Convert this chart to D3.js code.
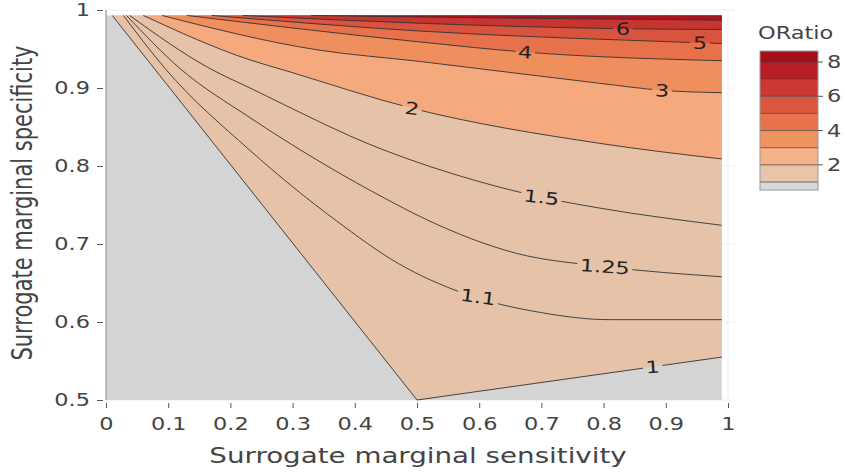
<!DOCTYPE html>
<html>
<head>
<meta charset="utf-8">
<script src="https://cdn.jsdelivr.net/npm/d3@7"></script>
<style>
body { margin: 0; background: #fff; }
text { font-family: "DejaVu Sans", Verdana, sans-serif; }
</style>
</head>
<body>
<script>
// tick labels
var xTicks = [0, 0.1, 0.2, 0.3, 0.4, 0.5, 0.6, 0.7, 0.8, 0.9, 1];
var yTicks = [0.5, 0.6, 0.7, 0.8, 0.9, 1];
var cbTicks = [2, 4, 6, 8];

// contour lines, [sensitivity, specificity]
var line_1    = [[0.01, 0.993], [0.5, 0.5], [0.99, 0.555]];
var line_1_1  = [[0.028, 0.993], [0.095, 0.925], [0.2315, 0.82], [0.37, 0.73], [0.47, 0.675], [0.574, 0.637], [0.70, 0.612], [0.81, 0.603], [0.99, 0.603]];
var line_1_25 = [[0.033, 0.993], [0.119, 0.925], [0.2315, 0.862], [0.445, 0.760], [0.516, 0.731], [0.66, 0.688], [0.802, 0.671], [0.99, 0.658]];
var line_1_5  = [[0.038, 0.993], [0.167, 0.925], [0.2315, 0.90], [0.445, 0.821], [0.60, 0.78], [0.70, 0.760], [0.794, 0.746], [0.99, 0.724]];
var line_2    = [[0.06, 0.993], [0.2315, 0.936], [0.29, 0.922], [0.492, 0.874], [0.794, 0.829], [0.99, 0.809]];
var line_3    = [[0.09, 0.993], [0.339, 0.949], [0.505, 0.934], [0.794, 0.906], [0.894, 0.897], [0.99, 0.894]];
var line_4    = [[0.13, 0.993], [0.505, 0.959], [0.674, 0.946], [0.99, 0.935]];
var line_5    = [[0.17, 0.993], [0.505, 0.973], [0.955, 0.958], [0.99, 0.957]];
var line_6    = [[0.22, 0.993], [0.505, 0.983], [0.831, 0.976], [0.99, 0.975]];
var line_7    = [[0.33, 0.993], [0.505, 0.991], [0.99, 0.987]];

var lineLevels = [1, 1.1, 1.25, 1.5, 2, 3, 4, 5, 6, 7];
var linePts = [line_1, line_1_1, line_1_25, line_1_5, line_2, line_3, line_4, line_5, line_6, line_7];
var labelAt = [0.879, 0.598, 0.802, 0.70, 0.492, 0.894, 0.674, 0.955, 0.831, null];

// filled bands
var fillLevels = [1, 2, 3, 4, 5, 6, 7];
var fillColors = ["#e6c3a8", "#f4a97e", "#ef8f5e", "#e6714a", "#d9543f", "#c73530", "#a8141f"];
var greyColor = "#d4d4d4";
var cbColors = ["#d8d8d8", "#e8c5a9", "#f6b189", "#f09360", "#e8734b", "#dc5640", "#cc3932", "#ba1e25", "#a50f1c"];
var cbEdges = [0.53, 1, 2, 3, 4, 5, 6, 7, 8, 8.64];

var xMax = 0.99, yTop = 0.993;
var SX = 1.32;

var svg = d3.select("body").append("svg")
    .attr("width", 845)
    .attr("height", 475);

var x = d3.scaleLinear().domain([0, 1]).range([106, 728]);
var y = d3.scaleLinear().domain([0.5, 1]).range([400, 10]);

// faint grid
svg.append("g").selectAll("line").data(xTicks).enter().append("line")
    .attr("x1", function(d) { return x(d); }).attr("x2", function(d) { return x(d); })
    .attr("y1", y(1)).attr("y2", y(0.5))
    .attr("stroke", "#eeeeee");
svg.append("g").selectAll("line").data(yTicks).enter().append("line")
    .attr("x1", x(0)).attr("x2", x(1) + 6)
    .attr("y1", function(d) { return y(d); }).attr("y2", function(d) { return y(d); })
    .attr("stroke", "#eeeeee");

// heatmap base (OR < 1)
svg.append("rect")
    .attr("x", x(0)).attr("y", y(yTop))
    .attr("width", x(xMax) - x(0)).attr("height", y(0.5) - y(yTop))
    .attr("fill", greyColor);

fillLevels.forEach(function(L, i) {
    var pts = linePts[lineLevels.indexOf(L)];
    var area = d3.area()
        .x(function(d) { return x(d[0]); })
        .y0(y(yTop))
        .y1(function(d) { return y(d[1]); })
        .curve(L === 1 ? d3.curveLinear : d3.curveMonotoneX);
    svg.append("path").attr("d", area(pts)).attr("fill", fillColors[i]);
});

function interpY(pts, xv) {
    for (var i = 0; i < pts.length - 1; i++) {
        if (xv >= pts[i][0] && xv <= pts[i + 1][0]) {
            var t = (xv - pts[i][0]) / (pts[i + 1][0] - pts[i][0]);
            return pts[i][1] + t * (pts[i + 1][1] - pts[i][1]);
        }
    }
    return pts[pts.length - 1][1];
}

// labels first so they can be measured for the mask
var defs = svg.append("defs");
var mask = defs.append("mask").attr("id", "lblmask").attr("maskUnits", "userSpaceOnUse")
    .attr("x", 0).attr("y", 0).attr("width", 845).attr("height", 475);
mask.append("rect").attr("width", 845).attr("height", 475).attr("fill", "#fff");

var lineG = svg.append("g").attr("mask", "url(#lblmask)");
var labelG = svg.append("g");

linePts.forEach(function(pts, i) {
    var line = d3.line()
        .x(function(d) { return x(d[0]); })
        .y(function(d) { return y(d[1]); })
        .curve(i === 0 ? d3.curveLinear : d3.curveMonotoneX);
    lineG.append("path").attr("d", line(pts))
        .attr("fill", "none")
        .attr("stroke", "#333")
        .attr("stroke-opacity", 0.9)
        .attr("stroke-width", 1);

    if (labelAt[i] == null) return;
    var lx = labelAt[i];
    var px = x(lx), py = y(interpY(pts, lx));
    var ax = x(lx - 0.02), ay = y(interpY(pts, lx - 0.02));
    var bx = x(Math.min(lx + 0.02, xMax)), by = y(interpY(pts, Math.min(lx + 0.02, xMax)));
    var ang = 0.55 * Math.atan2(by - ay, bx - ax) * 180 / Math.PI;
    var tf = "translate(" + px + "," + py + ") rotate(" + ang + ") scale(" + SX + ",1)";
    var t = labelG.append("text")
        .attr("transform", tf)
        .attr("text-anchor", "middle")
        .attr("dy", "0.36em")
        .attr("font-size", 17)
        .attr("fill", "#222")
        .text(String(lineLevels[i]));
    var w = t.node().getComputedTextLength();
    mask.append("rect")
        .attr("transform", tf)
        .attr("x", -w / 2 - 2).attr("y", -8)
        .attr("width", w + 4).attr("height", 16)
        .attr("fill", "#000");
});

// axes
var xAxis = svg.append("g")
    .attr("transform", "translate(0,403)")
    .call(d3.axisBottom(x).tickValues(xTicks).tickSize(5).tickPadding(10).tickFormat(function(d) { return String(d); }));
var yAxis = svg.append("g")
    .attr("transform", "translate(103,0)")
    .call(d3.axisLeft(y).tickValues(yTicks).tickSize(6).tickPadding(7).tickFormat(function(d) { return String(d); }));
[xAxis, yAxis].forEach(function(g) {
    g.select(".domain").remove();
    g.selectAll(".tick line").attr("stroke", "#555");
    g.selectAll("text")
        .attr("font-family", "DejaVu Sans, Verdana, sans-serif")
        .attr("font-size", 17)
        .attr("fill", "#444");
});
xAxis.selectAll("text").attr("transform", "scale(" + SX + ",1)");
yAxis.selectAll("text").attr("x", -13 / SX).attr("transform", "scale(" + SX + ",1)");

svg.append("line")
    .attr("x1", 106).attr("x2", 106)
    .attr("y1", y(1)).attr("y2", y(0.5))
    .attr("stroke", "#888");

svg.append("text")
    .attr("transform", "translate(418,463) scale(" + SX + ",1)")
    .attr("text-anchor", "middle")
    .attr("font-size", 21)
    .attr("fill", "#444")
    .text("Surrogate marginal sensitivity");

svg.append("text")
    .attr("transform", "translate(32,203) scale(" + SX + ",1) rotate(-90)")
    .attr("text-anchor", "middle")
    .attr("font-size", 21)
    .attr("fill", "#444")
    .text("Surrogate marginal specificity");

// colour bar
var cb = d3.scaleLinear().domain([1, 8]).range([182, 62]);
var cbG = svg.append("g");
cbColors.forEach(function(c, i) {
    cbG.append("rect")
        .attr("x", 760).attr("width", 58)
        .attr("y", cb(cbEdges[i + 1]))
        .attr("height", cb(cbEdges[i]) - cb(cbEdges[i + 1]))
        .attr("fill", c);
});
cbEdges.slice(1, -1).forEach(function(v) {
    cbG.append("line")
        .attr("x1", 760).attr("x2", 818)
        .attr("y1", cb(v)).attr("y2", cb(v))
        .attr("stroke", "#3a3a3a").attr("stroke-opacity", 0.7);
});
cbG.append("rect")
    .attr("x", 760).attr("width", 58)
    .attr("y", cb(cbEdges[cbEdges.length - 1]))
    .attr("height", cb(cbEdges[0]) - cb(cbEdges[cbEdges.length - 1]))
    .attr("fill", "none").attr("stroke", "#999");
cbTicks.forEach(function(v) {
    cbG.append("line")
        .attr("x1", 818).attr("x2", 823)
        .attr("y1", cb(v)).attr("y2", cb(v))
        .attr("stroke", "#555");
    cbG.append("text")
        .attr("transform", "translate(827," + cb(v) + ") scale(" + SX + ",1)")
        .attr("dy", "0.36em")
        .attr("font-size", 17)
        .attr("fill", "#444")
        .text(v);
});
cbG.append("text")
    .attr("transform", "translate(758,39) scale(" + SX + ",1)")
    .attr("font-size", 17)
    .attr("fill", "#444")
    .text("ORatio");
</script>
</body>
</html>
